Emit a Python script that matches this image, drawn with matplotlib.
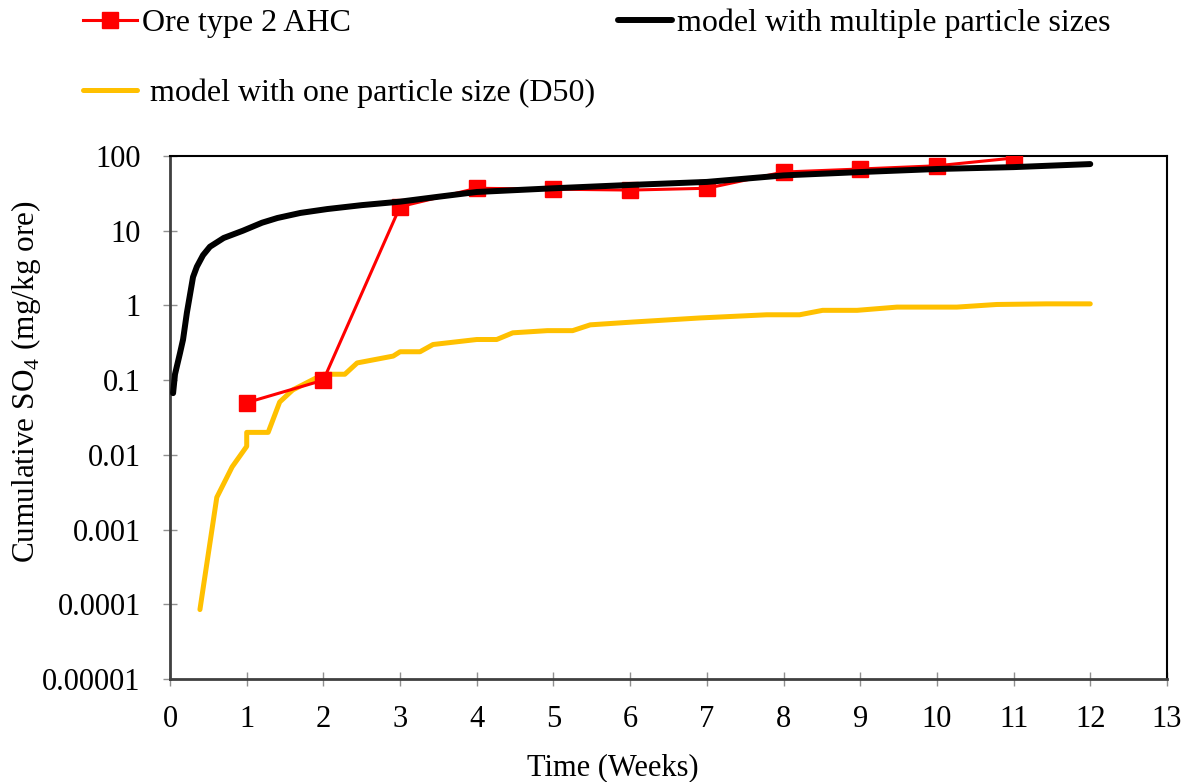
import numpy as np
import matplotlib.pyplot as plt

plt.rcParams['font.family'] = ['Liberation Serif', 'DejaVu Serif']
plt.rcParams['mathtext.fontset'] = 'custom'
plt.rcParams['mathtext.rm'] = 'Liberation Serif'

# measured data (weeks)
ore_weeks = [1, 2, 3, 4, 5, 6, 7, 8, 9, 10, 11]
ore_so4 = [0.05, 0.1, 21, 37, 36, 35, 37, 61, 67, 74, 94]

multi_weeks = [0.04, 0.065, 0.13, 0.17, 0.22, 0.3, 0.35, 0.43, 0.52, 0.7, 0.95,
               1.2, 1.4, 1.7, 2.05, 2.5, 3.0, 3.5, 4.0, 5.0, 6.0, 7.0, 8.0,
               9.0, 10.0, 11.0, 12.0]
multi_so4 = [0.067, 0.12, 0.23, 0.35, 0.8, 2.4, 3.3, 4.7, 6.1, 8.0, 10,
             12.8, 14.8, 17.3, 19.5, 22, 24.5, 28.5, 33, 37, 41, 45, 55,
             61, 67, 71, 78]

one_weeks = [0.39, 0.61, 0.81, 1.0, 1.0, 1.28, 1.43, 1.6, 2.0, 2.28, 2.44, 2.91,
             3.0, 3.26, 3.43, 4.0, 4.26, 4.47, 4.92, 5.25, 5.48, 6.04, 6.91,
             7.78, 8.21, 8.51, 8.96, 9.48, 10.26, 10.78, 11.43, 12.0]
one_so4 = [8.5e-5, 0.0027, 0.0069, 0.013, 0.02, 0.02, 0.051, 0.074, 0.12, 0.12,
           0.17, 0.21, 0.24, 0.24, 0.3, 0.35, 0.35, 0.43, 0.46, 0.46, 0.55, 0.6,
           0.68, 0.75, 0.75, 0.86, 0.86, 0.95, 0.95, 1.03, 1.05, 1.05]

ytick_vals = [0.00001, 0.0001, 0.001, 0.01, 0.1, 1, 10, 100]
ytick_labels = ['0.00001', '0.0001', '0.001', '0.01', '0.1', '1', '10', '100']

fig = plt.figure(figsize=(11.84, 7.82), dpi=100)
ax = fig.add_axes([0.1436, 0.1317, 0.842, 0.6688])

l1, = ax.plot(ore_weeks, ore_so4, color='#FF0000', lw=2.2, marker='s',
              markersize=12, label='Ore type 2 AHC', zorder=3)
l2, = ax.plot(multi_weeks, multi_so4, color='black', lw=4.3,
              solid_capstyle='round', solid_joinstyle='round',
              label='model with multiple particle sizes', zorder=4)
l3, = ax.plot(one_weeks, one_so4, color='#FFC000', lw=3.6,
              solid_capstyle='round', label=' model with one particle size (D50)', zorder=2)

ax.set_yscale('log')
ax.set_ylim(1e-5, 100)
ax.set_xlim(0, 13)
ax.set_xticks(range(0, 14))
ax.set_yticks(ytick_vals)
ax.set_yticklabels(ytick_labels)
ax.minorticks_off()
ax.tick_params(axis='both', direction='inout', length=10, width=1, color='#909090',
               labelsize=22)
ax.tick_params(axis='x', pad=14)
ax.tick_params(axis='y', pad=16)

for s in ['left', 'bottom']:
    ax.spines[s].set_color('#404040')
    ax.spines[s].set_linewidth(2)
for s in ['top', 'right']:
    ax.spines[s].set_color('black')
    ax.spines[s].set_linewidth(1.5)

ax.set_xlabel('Time (Weeks)', fontsize=22)
ax.set_ylabel('Cumulative SO$_4$ (mg/kg ore)', fontsize=22.5)
ax.xaxis.set_label_coords(0.444, -0.141)
ax.yaxis.set_label_coords(-0.127, 0.568)

fig.legend(handles=[l1, l3, l2], ncol=2, loc='upper left',
           bbox_to_anchor=(83 / 1184, 1 - 9 / 782), frameon=False, fontsize=23,
           handlelength=1.7, handletextpad=0.15, labelspacing=1.25,
           columnspacing=0.7, borderpad=0, borderaxespad=0)

fig.savefig('out.png', dpi=100)
